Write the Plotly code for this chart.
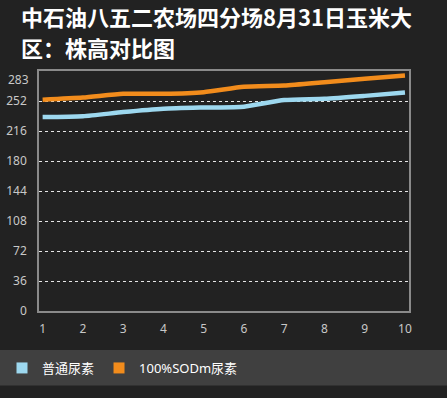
import plotly.graph_objects as go

days = [1, 2, 3, 4, 5, 6, 7, 8, 9, 10]
normal_urea = [233, 234, 239, 243, 244.5, 245.5, 253.5, 255, 258.5, 262.5]
sod_urea = [254, 256.5, 261, 261, 263, 269.5, 271, 275, 279, 283]
series_names = ["普通尿素", "100%SODm尿素"]
series_colors = ["#9dd8ef", "#f28c1c"]
y_grid_ticks = [0, 36, 72, 108, 144, 180, 216, 252]
y_top_tick = 283
title_lines = ["中石油八五二农场四分场8月31日玉米大", "区：株高对比图"]

font_family = "Noto Sans, Noto Sans CJK SC, sans-serif"

fig = go.Figure()
for name, vals, col in zip(series_names, [normal_urea, sod_urea], series_colors):
    fig.add_trace(go.Scatter(x=days, y=vals, mode="lines", name=name,
                             line=dict(color=col, width=4.5, shape="spline", smoothing=0.6),
                             showlegend=False, hoverinfo="x+y"))
for name, col in zip(series_names, series_colors):
    fig.add_trace(go.Scatter(x=[None], y=[None], mode="markers", name=name,
                             marker=dict(symbol="square", size=11, color=col),
                             showlegend=True))

fig.update_layout(
    width=447, height=398,
    paper_bgcolor="#222222", plot_bgcolor="#222222",
    margin=dict(l=39, r=38, t=71, b=87, pad=0, autoexpand=False),
    font=dict(family=font_family, color="#cccccc", size=12),
    showlegend=True,
    legend=dict(orientation="h", xref="container", yref="container",
                x=2 / 447, y=1 - 368 / 398, xanchor="left", yanchor="middle",
                bgcolor="rgba(0,0,0,0)", font=dict(size=13, color="#ffffff"),
                itemwidth=30, tracegroupgap=0),
    xaxis=dict(range=[0.91, 10.1], tickvals=days, showgrid=False, zeroline=False,
               automargin=False,
               showline=True, linecolor="#8a8a8a", linewidth=1.5, mirror=True,
               ticks="", ticklabelstandoff=6, tickfont=dict(size=12, color="#c8c8c8")),
    yaxis=dict(range=[0, 288.4], tickvals=y_grid_ticks, showgrid=True,
               automargin=False,
               gridcolor="#e6e6e6", griddash="dot", gridwidth=1, zeroline=False,
               showline=True, linecolor="#8a8a8a", linewidth=1.5, mirror=True,
               ticks="", ticklabelstandoff=8, tickfont=dict(size=12, color="#c8c8c8")),
    shapes=[dict(type="rect", xref="paper", yref="paper", x0=-0.2, x1=1.2,
                 y0=(311 - 350) / 240, y1=(311 - 385.5) / 240,
                 fillcolor="#404040", line=dict(width=0), layer="below")],
    annotations=[
        dict(text=str(y_top_tick), xref="paper", yref="y", x=0, y=y_top_tick,
             xanchor="right", yanchor="middle", showarrow=False, xshift=-8, yshift=-4,
             font=dict(size=12, color="#c8c8c8")),
        dict(text="<b>" + title_lines[0] + "</b>", xref="paper", yref="paper",
             x=(19 - 39) / 370, y=(311 - 16) / 240, xanchor="left", yanchor="middle",
             showarrow=False, font=dict(size=22, color="#ffffff", family="Noto Sans CJK SC")),
        dict(text="<b>" + title_lines[1] + "</b>", xref="paper", yref="paper",
             x=(19 - 39) / 370, y=(311 - 47) / 240, xanchor="left", yanchor="middle",
             showarrow=False, font=dict(size=22, color="#ffffff", family="Noto Sans CJK SC")),
    ],
)

fig.write_html("out.html", config={"displayModeBar": False},
               post_script="document.body.style.margin='0';document.body.style.overflow='hidden';")
